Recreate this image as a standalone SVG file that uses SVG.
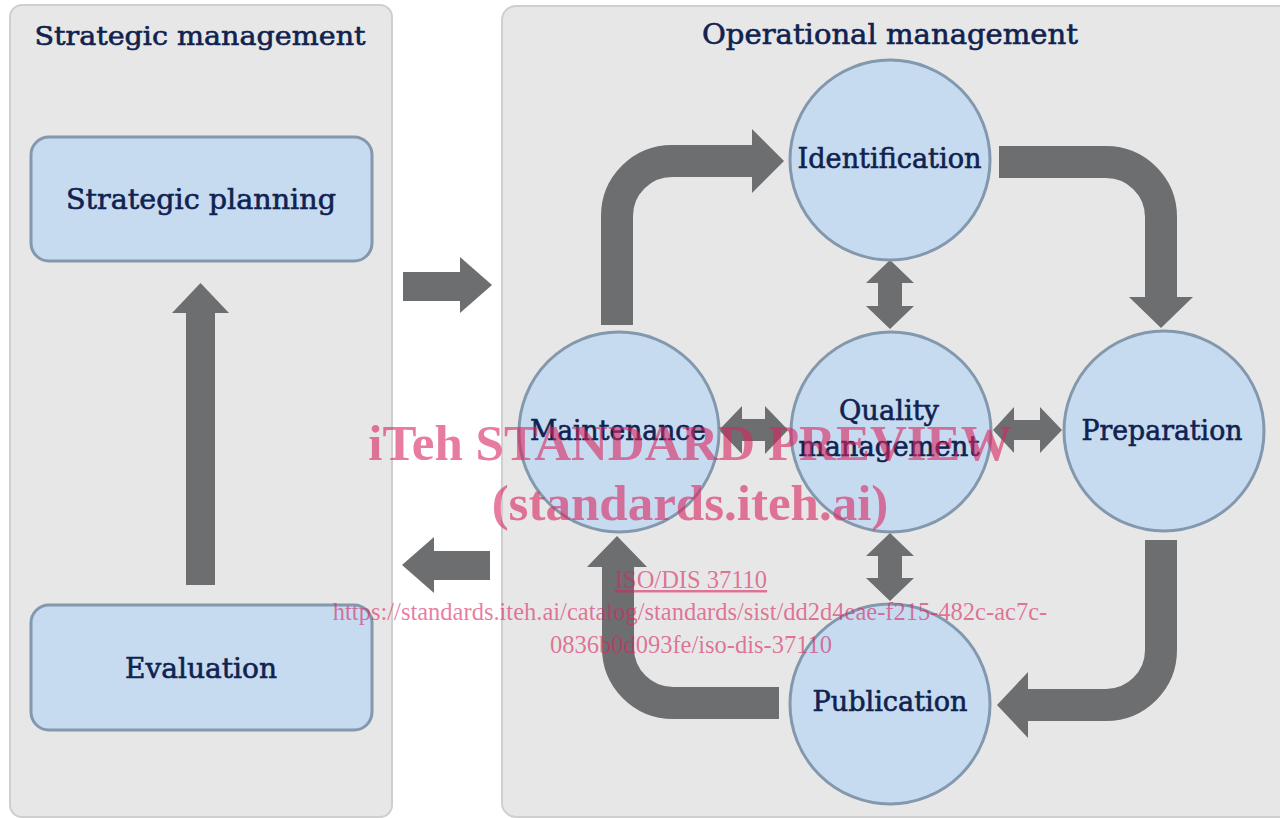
<svg xmlns="http://www.w3.org/2000/svg" width="1280" height="818" viewBox="0 0 1280 818">
  <defs>
    <style>
      .panel { fill: #e7e7e7; stroke: #cfcfcf; stroke-width: 2; }
      .box { fill: #c6dbf0; stroke: #8398ad; stroke-width: 3; }
      .node { fill: #c6dbf0; stroke: #8398ad; stroke-width: 3; }
      .lbl { font-family: "DejaVu Serif", "Liberation Serif", serif; fill: #10224f; stroke: #10224f; stroke-width: 0.6; text-anchor: middle; }
      .band { fill: none; stroke: #6d6e70; stroke-width: 32; stroke-linecap: butt; }
      .head { fill: #6d6e70; }
      .wm { font-family: "Liberation Serif", "Times New Roman", serif; fill: #d9245f; fill-opacity: 0.6; text-anchor: middle; }
    </style>
  </defs>

  <rect width="1280" height="818" fill="#ffffff"/>

  <!-- Panels -->
  <g id="strategic-panel">
    <rect class="panel" x="10" y="5" width="382" height="812" rx="12"/>
    <text class="lbl" x="200" y="45" font-size="26" textLength="331" lengthAdjust="spacingAndGlyphs">Strategic management</text>
  </g>
  <g id="operational-panel">
    <rect class="panel" x="502" y="6" width="800" height="811" rx="14"/>
    <text class="lbl" x="890" y="44" font-size="27" textLength="376" lengthAdjust="spacingAndGlyphs">Operational management</text>
  </g>

  <!-- Connectors -->
  <g id="connectors">
    <!-- Evaluation to Strategic planning -->
    <rect class="head" x="186" y="311" width="29" height="274"/>
    <polygon class="head" points="172,313 200.5,283 229,313"/>

    <!-- Strategic to operational -->
    <rect class="head" x="403" y="272" width="59" height="29"/>
    <polygon class="head" points="460,257 492,285 460,313"/>

    <!-- Operational to strategic -->
    <rect class="head" x="432" y="551" width="58" height="29"/>
    <polygon class="head" points="434,537 402,565 434,593"/>

    <!-- Maintenance to Identification -->
    <path class="band" d="M617 325 V216 A55 55 0 0 1 672 161 H754"/>
    <polygon class="head" points="752,129 784,161 752,193"/>

    <!-- Identification to Preparation -->
    <path class="band" d="M999 162 H1106 A55 55 0 0 1 1161 217 V299"/>
    <polygon class="head" points="1129,297 1193,297 1161,328"/>

    <!-- Preparation to Publication -->
    <path class="band" d="M1161 540 V650 A55 55 0 0 1 1106 705 H1026"/>
    <polygon class="head" points="1028,672 997,705 1028,738"/>

    <!-- Publication to Maintenance -->
    <path class="band" d="M779 703 H673 A55 55 0 0 1 618 648 V565"/>
    <polygon class="head" points="587,567 617,536 647,567"/>

    <!-- Two-way links with Quality management -->
    <polygon class="head" points="890,260 914,283 902,283 902,306 914,306 890,329 866,306 878,306 878,283 866,283"/>
    <polygon class="head" points="890,533 914,556 902,556 902,578 914,578 890,601 866,578 878,578 878,556 866,556"/>
    <polygon class="head" points="719,430 742,406 742,419 765,419 765,406 788,430 765,454 765,441 742,441 742,454"/>
    <polygon class="head" points="993,430 1014,407 1014,420 1040,420 1040,407 1062,430 1040,453 1040,440 1014,440 1014,453"/>
  </g>

  <!-- Nodes -->
  <g id="strategic-planning">
    <rect class="box" x="31" y="137" width="341" height="124" rx="18"/>
    <text class="lbl" x="201" y="209" font-size="28" textLength="270" lengthAdjust="spacingAndGlyphs">Strategic planning</text>
  </g>
  <g id="evaluation">
    <rect class="box" x="31" y="605" width="341" height="125" rx="18"/>
    <text class="lbl" x="201" y="678" font-size="28" textLength="152" lengthAdjust="spacingAndGlyphs">Evaluation</text>
  </g>
  <g id="identification">
    <circle class="node" cx="890" cy="160" r="100"/>
    <text class="lbl" x="889.5" y="168" font-size="27" textLength="184" lengthAdjust="spacingAndGlyphs">Identification</text>
  </g>
  <g id="quality-management">
    <circle class="node" cx="891" cy="432" r="100"/>
    <text class="lbl" x="889" y="420" font-size="27" textLength="100" lengthAdjust="spacingAndGlyphs">Quality</text>
    <text class="lbl" x="889" y="456" font-size="27" textLength="181" lengthAdjust="spacingAndGlyphs">management</text>
  </g>
  <g id="maintenance">
    <circle class="node" cx="619" cy="432" r="100"/>
    <text class="lbl" x="618" y="440" font-size="27" textLength="176" lengthAdjust="spacingAndGlyphs">Maintenance</text>
  </g>
  <g id="preparation">
    <circle class="node" cx="1164" cy="431" r="100"/>
    <text class="lbl" x="1162" y="440" font-size="27" textLength="161" lengthAdjust="spacingAndGlyphs">Preparation</text>
  </g>
  <g id="publication">
    <circle class="node" cx="890" cy="704" r="100"/>
    <text class="lbl" x="890" y="711" font-size="27" textLength="155" lengthAdjust="spacingAndGlyphs">Publication</text>
  </g>

  <!-- Overprinted notice -->
  <g id="watermark">
    <text class="wm" x="690" y="460" font-size="51" font-weight="bold">iTeh STANDARD PREVIEW</text>
    <text class="wm" x="690" y="520" font-size="51" font-weight="bold">(standards.iteh.ai)</text>
    <text class="wm" x="691" y="588" font-size="24.5" text-decoration="underline">ISO/DIS 37110</text>
    <text class="wm" x="690" y="620" font-size="24.5">https://standards.iteh.ai/catalog/standards/sist/dd2d4eae-f215-482c-ac7c-</text>
    <text class="wm" x="691" y="653" font-size="24.5">0836b0d093fe/iso-dis-37110</text>
  </g>
</svg>
